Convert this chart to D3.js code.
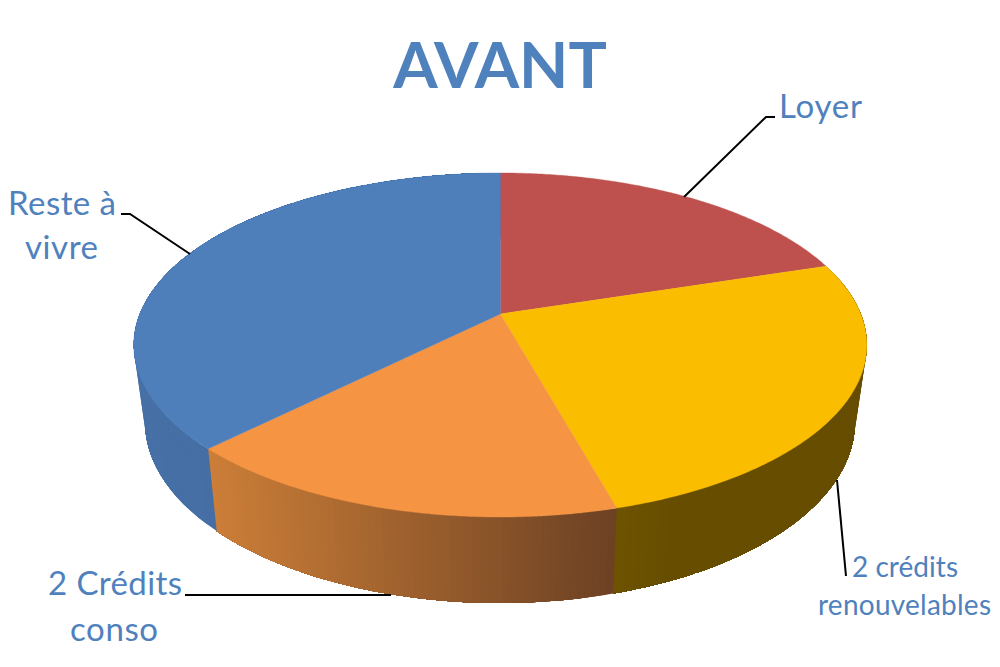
<!DOCTYPE html>
<html><head><meta charset="utf-8">
<script src="https://cdn.jsdelivr.net/npm/d3@7/dist/d3.min.js"></script>
<style>html,body{margin:0;background:#fff}svg{display:block}text{font-family:Lato,"Open Sans",sans-serif;fill:#4F81BD}</style>
</head><body><svg id="c" width="1000" height="667"></svg>
<script>
const categories = ["Loyer","2 crédits renouvelables","2 Crédits conso","Reste à vivre"];
const values = [20.1,25.6,16.8,37.5];
const topColors = ["#BE504D","#FBBD00","#F59443","#4E7FBA"];
const sideStart = ["#8a3a38","#6E5400","#CC7E38","#4670A6"];
const sideEnd = ["#8a3a38","#664D00","#6C4123","#3F6A9D"];
const chartTitle = "AVANT";

const svg = d3.select("#c");
const pie = d3.pie().value(d=>d).sort(null);
const arcs = pie(values);

// perspective disc: near/far half-heights and half-width around the apex
function disc(cx, apexY, halfW, near, far){
  const k = (near-far)/(near+far), b = near*(1-k), a = halfW*Math.sqrt(1-k*k);
  const sx = d3.scaleLinear().domain([-1,1]).range([cx-a,cx+a]);
  const sy = d3.scaleLinear().domain([-1,1]).range([apexY-b,apexY+b]);
  return t=>{
    const u=Math.sin(t), v=-Math.cos(t), w=1-k*v;
    return [sx(u/w), sy(v/w)];
  };
}
const topDisc = disc(500.3,314,366.5,203,141);
const botDisc = disc(500,389,355,214,148);
const line = d3.line();
const steps = (a,b,n)=>d3.range(n+1).map(i=>a+(b-a)*i/n);

// sides: painted in overlapping bands so no seams show, each band running to the arc's end
const sideG = svg.append("g");
arcs.forEach((d,i)=>{
  if(i===0) return;
  const ts = steps(d.startAngle,d.endAngle,60);
  const xs = ts.map(t=>topDisc(t)[0]);
  const e = topDisc(d.endAngle)[0];
  const col = d3.scaleLinear().domain(i===1?[e,e+60]:[d3.min(xs),d3.max(xs)]).range([sideStart[i],sideEnd[i]]).clamp(true);
  for(let j=0;j<ts.length-1;j++){
    const rest = ts.slice(j);
    const poly=[...rest.map(topDisc),...rest.slice().reverse().map(botDisc)];
    sideG.append("path").attr("d",line(poly)+"Z").attr("fill",col((topDisc(ts[j])[0]+topDisc(ts[j+1])[0])/2));
  }
});

// top faces
const faces = svg.append("g");
arcs.forEach((d,i)=>{
  const pts=[[500.3,314],...steps(d.startAngle,d.endAngle,140).map(topDisc)];
  faces.append("path").attr("d",line(pts)+"Z").attr("fill",topColors[i]).attr("stroke",topColors[i]).attr("stroke-width",0.4);
});

// leaders
const leaders=[
 [[684,197],[766,117],[775,117]],
 [[837,480],[846,576]],
 [[185,595],[391,595]],
 [[190,254],[130,214],[121,214]]
];
svg.append("g").selectAll("path").data(leaders).join("path")
  .attr("d",d=>line(d)).attr("fill","none").attr("stroke","#000").attr("stroke-width",2);

// text
svg.append("text").text(chartTitle).attr("x",500).attr("y",88).attr("text-anchor","middle")
  .attr("font-weight",700).style("font-size","64px");
const labels=[
 [["Loyer",820.5,118,83]],
 [["2 crédits",905,577,106],["renouvelables",904.5,615,173]],
 [["2 Crédits",115,595,134],["conso",114,641,88]],
 [["Reste à",62,215,108],["vivre",61.5,259,73]]
];
const sizes=[33,28,33,33];
labels.forEach((l,i)=>l.forEach(r=>{
  svg.append("text").text(r[0]).attr("x",r[1]).attr("y",r[2]).attr("text-anchor","middle")
    .attr("textLength",r[3]).attr("lengthAdjust","spacing").style("font-size",sizes[i]+"px");
}));
</script></body></html>
